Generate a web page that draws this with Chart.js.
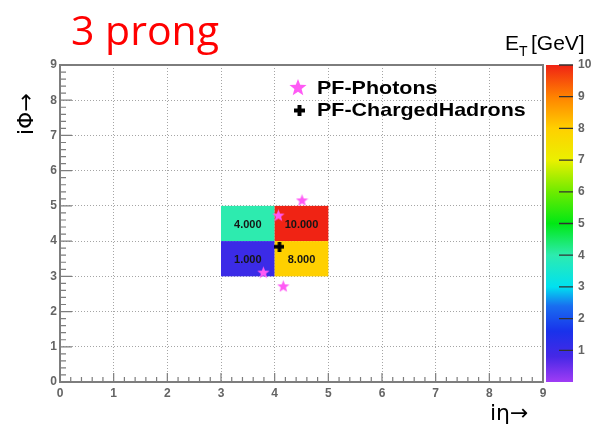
<!DOCTYPE html>
<html>
<head>
<meta charset="utf-8">
<title>3 prong</title>
<style>
    html, body { margin: 0; padding: 0; background: #fff; }
    #wrap { width: 605px; height: 426px; }
</style>
</head>
<body>
<div id="wrap"><canvas id="myChart"></canvas></div>

<script src="https://cdn.jsdelivr.net/npm/chart.js"></script>
<script>
    // tower cells (lower-left corner, 1x1 in i-eta / i-phi) and their E_T in GeV
    const cellEta = [3, 4, 3, 4];
    const cellPhi = [4, 4, 3, 3];
    const cellEt = [4, 10, 1, 8];

    // PF candidates
    const photonEta = [4.51, 4.07, 3.79, 4.16];
    const photonPhi = [5.17, 4.74, 3.12, 2.73];
    const hadronEta = [4.09];
    const hadronPhi = [3.84];

    const axisMin = 0, axisMax = 9;
    const zMin = 0, zMax = 10;
    const colorbarTicks = [1, 2, 3, 4, 5, 6, 7, 8, 9, 10];

    // ROOT-like rainbow palette, [value, r, g, b]
    const palette = [
        [0, 160, 60, 245], [0.8, 70, 40, 230], [1.6, 25, 50, 235], [2.4, 25, 110, 240],
        [3, 0, 225, 240], [4, 45, 235, 175], [5, 0, 232, 20], [6, 110, 235, 0],
        [7, 235, 240, 0], [8, 255, 208, 0], [9, 255, 130, 0], [10, 240, 35, 20]
    ];

    function paletteColor(v) {
        for (let i = 1; i < palette.length; i++) {
            if (v <= palette[i][0]) {
                const a = palette[i - 1], b = palette[i];
                const t = (v - a[0]) / (b[0] - a[0]);
                const c = [1, 2, 3].map(k => Math.round(a[k] + (b[k] - a[k]) * t));
                return `rgb(${c[0]},${c[1]},${c[2]})`;
            }
        }
        const l = palette[palette.length - 1];
        return `rgb(${l[1]},${l[2]},${l[3]})`;
    }

    function starImage(size, color) {
        const c = document.createElement("canvas");
        c.width = size; c.height = size;
        const g = c.getContext("2d");
        const cx = size / 2, cy = size / 2 + size * 0.05, R = size / 2, r = R * 0.42;
        g.beginPath();
        for (let i = 0; i < 10; i++) {
            const a = -Math.PI / 2 + i * Math.PI / 5;
            const rad = i % 2 ? r : R;
            g.lineTo(cx + rad * Math.cos(a), cy + rad * Math.sin(a));
        }
        g.closePath();
        g.fillStyle = color;
        g.fill();
        return c;
    }

    function crossImage(size, color) {
        const c = document.createElement("canvas");
        c.width = size; c.height = size;
        const g = c.getContext("2d");
        const w = size * 0.36;
        g.fillStyle = color;
        g.fillRect((size - w) / 2, 0, w, size);
        g.fillRect(0, (size - w) / 2, size, w);
        return c;
    }

    const photonColor = "rgb(255, 90, 245)";
    const gray = "rgb(125, 125, 125)";
    const tickColor = "rgb(100,100,100)";

    const heatmap = {
        id: "heatmap",
        beforeDatasetsDraw(chart) {
            const { ctx, scales: { x, y } } = chart;
            ctx.save();
            cellEt.forEach((v, i) => {
                const x0 = x.getPixelForValue(cellEta[i]), x1 = x.getPixelForValue(cellEta[i] + 1);
                const y0 = y.getPixelForValue(cellPhi[i] + 1), y1 = y.getPixelForValue(cellPhi[i]);
                ctx.fillStyle = paletteColor(v);
                ctx.fillRect(x0, y0, x1 - x0, y1 - y0);
                ctx.fillStyle = "#151515";
                ctx.font = 'bold 11px "Liberation Sans"';
                ctx.textAlign = "center";
                ctx.textBaseline = "middle";
                ctx.fillText(v.toFixed(3), (x0 + x1) / 2, (y0 + y1) / 2 + 1);
            });
            ctx.restore();
        }
    };

    const decorations = {
        id: "decorations",
        afterDraw(chart) {
            const { ctx, chartArea: a, scales: { x, y, cb } } = chart;
            ctx.save();

            // frame
            ctx.strokeStyle = gray;
            ctx.lineWidth = 2;
            ctx.strokeRect(a.left, a.top, a.right - a.left, a.bottom - a.top);

            // inward ticks
            ctx.lineWidth = 1.2;
            ctx.beginPath();
            for (let k = 0; k <= (axisMax - axisMin) * 5; k++) {
                const v = axisMin + k * 0.2;
                const major = k % 5 === 0;
                const px = x.getPixelForValue(v);
                ctx.moveTo(px, a.bottom);
                ctx.lineTo(px, a.bottom - (major ? 9 : 5));
                const py = y.getPixelForValue(v);
                ctx.moveTo(a.left, py);
                ctx.lineTo(a.left + (major ? 12 : 6), py);
            }
            ctx.stroke();

            // colour bar
            const top = cb.getPixelForValue(zMax), bottom = cb.getPixelForValue(zMin);
            const bx0 = a.right + 3, bx1 = a.right + 30;
            const grad = ctx.createLinearGradient(0, bottom, 0, top);
            palette.forEach(p => grad.addColorStop((p[0] - zMin) / (zMax - zMin), `rgb(${p[1]},${p[2]},${p[3]})`));
            ctx.fillStyle = grad;
            ctx.fillRect(bx0, top, bx1 - bx0, bottom - top);
            ctx.strokeStyle = "rgb(50, 50, 50)";
            ctx.lineWidth = 1.3;
            ctx.beginPath();
            colorbarTicks.forEach(t => {
                const py = cb.getPixelForValue(t);
                ctx.moveTo(bx1 - 14, py);
                ctx.lineTo(bx1, py);
            });
            ctx.stroke();

            // title
            ctx.fillStyle = "rgb(255, 0, 0)";
            ctx.font = '41px "Open Sans"';
            ctx.textAlign = "left";
            ctx.textBaseline = "alphabetic";
            ctx.fillText("3 prong", 71, 45);

            // z title
            ctx.fillStyle = "#000";
            ctx.font = '21px "Liberation Sans"';
            ctx.fillText("E", 505, 50);
            ctx.font = '14px "Liberation Sans"';
            ctx.fillText("T", 519, 56);
            ctx.font = '21px "Liberation Sans"';
            ctx.fillText("[GeV]", 531, 50);

            // axis titles
            ctx.font = '22px "DejaVu Sans"';
            ctx.fillText("iη→", 490, 420);
            ctx.save();
            ctx.translate(33, 135);
            ctx.rotate(-Math.PI / 2);
            ctx.fillText("iΦ→", 0, 0);
            ctx.restore();

            // legend
            ctx.drawImage(starImage(18, photonColor), 289, 78);
            ctx.drawImage(crossImage(11, "#000"), 294, 105);
            ctx.fillStyle = "#000";
            ctx.textBaseline = "middle";
            ctx.font = 'bold 19px "Liberation Sans"';
            ctx.save();
            ctx.translate(317, 0);
            ctx.scale(1.13, 1);
            ctx.fillText("PF-Photons", 0, 89);
            ctx.fillText("PF-ChargedHadrons", 0, 111);
            ctx.restore();

            ctx.restore();
        }
    };

    const ctx = document.getElementById("myChart");

    new Chart(ctx, {
        type: "scatter",
        data: {
            datasets: [
                {
                    label: "PF-Photons",
                    data: photonEta.map((v, i) => ({ x: v, y: photonPhi[i] })),
                    pointStyle: starImage(13, photonColor),
                },
                {
                    label: "PF-ChargedHadrons",
                    data: hadronEta.map((v, i) => ({ x: v, y: hadronPhi[i] })),
                    pointStyle: crossImage(10, "#000"),
                }
            ]
        },
        options: {
            responsive: true,
            maintainAspectRatio: false,
            animation: false,
            layout: { padding: { top: 65, left: 0, right: 0, bottom: 0 } },
            scales: {
                x: {
                    type: "linear",
                    min: axisMin,
                    max: axisMax,
                    afterFit(scale) { scale.height = 44; },
                    grid: { color: "rgb(165,165,165)", drawTicks: false },
                    border: { display: false, dash: [1, 2] },
                    ticks: { stepSize: 1, padding: 4, color: tickColor, font: { family: "Liberation Sans", size: 12, weight: "bold" } }
                },
                y: {
                    type: "linear",
                    min: axisMin,
                    max: axisMax,
                    afterFit(scale) { scale.width = 60; },
                    grid: { color: "rgb(165,165,165)", drawTicks: false },
                    border: { display: false, dash: [1, 2] },
                    ticks: { stepSize: 1, padding: 3, color: tickColor, font: { family: "Liberation Sans", size: 12, weight: "bold" } }
                },
                cb: {
                    type: "linear",
                    position: "right",
                    min: zMin,
                    max: zMax,
                    afterFit(scale) { scale.width = 62; },
                    grid: { display: false, drawTicks: false },
                    border: { display: false },
                    ticks: {
                        stepSize: 1,
                        padding: 35,
                        color: tickColor,
                        font: { family: "Liberation Sans", size: 12, weight: "bold" },
                        callback: v => (v === 0 ? "" : v)
                    }
                }
            },
            plugins: {
                legend: { display: false },
                tooltip: { enabled: false }
            }
        },
        plugins: [heatmap, decorations]
    });
</script>
</body>
</html>
